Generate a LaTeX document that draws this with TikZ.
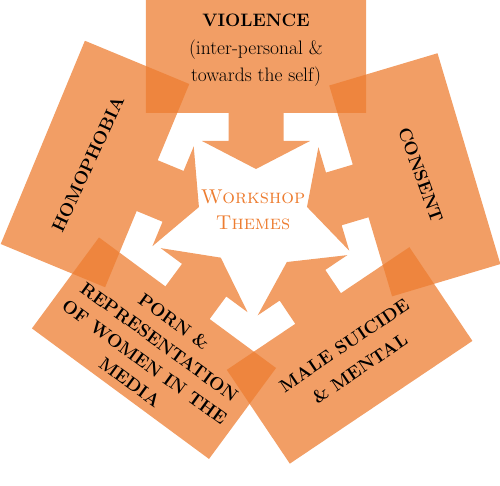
\documentclass[tikz,border=0pt]{standalone}
\usepackage{tikz}
\definecolor{themeorange}{RGB}{237,125,49}
\begin{document}
\begin{tikzpicture}[x=1pt, y=1pt,
    themebox/.style={fill=themeorange, fill opacity=0.75},
    themetext/.style={font=\fontsize{18}{26}\selectfont\bfseries, align=center, text=black}]

\useasboundingbox (-256,-263.5) rectangle (244,222.5);

% ---- Theme boxes, each with an arrow into the centre --------------------
% centre of the box / direction it faces
\foreach \cx/\cy/\t in {0/166/90, 158.8/47.7/16.6, 93.6/-132.9/-56.1,
                        -102/-125.7/-126.4, -161/58.5/157.5}{
  \fill[themebox, shift={(\cx,\cy)}, rotate={\t-90}]
    (-110,56.5) -- (110,56.5) -- (110,-56.5) -- (27.5,-56.5) -- (27.5,-84.5)
    -- (54,-84.5) -- (0,-112.5) -- (-54,-84.5) -- (-27.5,-84.5) -- (-27.5,-56.5)
    -- (-110,-56.5) -- cycle;
}

% ---- Labels -------------------------------------------------------------
\node[themetext, font=\fontsize{18}{27.5}\selectfont] (violence) at (0,172)
  {\textbf{VIOLENCE}\\ {\fontsize{19.5}{27.5}\selectfont (inter-personal \&}\\
   {\fontsize{19.5}{27.5}\selectfont towards the self)}};
\node[themetext, rotate=-70] (consent) at (164.7,47.5) {CONSENT};
\node[themetext, font=\fontsize{18}{28}\selectfont\bfseries, rotate=34]
  (suicide) at (96,-134.5) {MALE SUICIDE\\ \& MENTAL};
\node[themetext, font=\fontsize{18}{25}\selectfont\bfseries, rotate=-36]
  (porn) at (-104,-129.5) {PORN \&\\ REPRESENTATION\\ OF WOMEN IN THE\\ MEDIA};
\node[themetext, rotate=65] (homophobia) at (-168,58.5) {HOMOPHOBIA};

% ---- Centre of the star -------------------------------------------------
\node[font=\fontsize{20}{26}\selectfont\scshape, align=center, text=themeorange]
  (workshop) at (-3,13) {Workshop\\ Themes};

\end{tikzpicture}
\end{document}
